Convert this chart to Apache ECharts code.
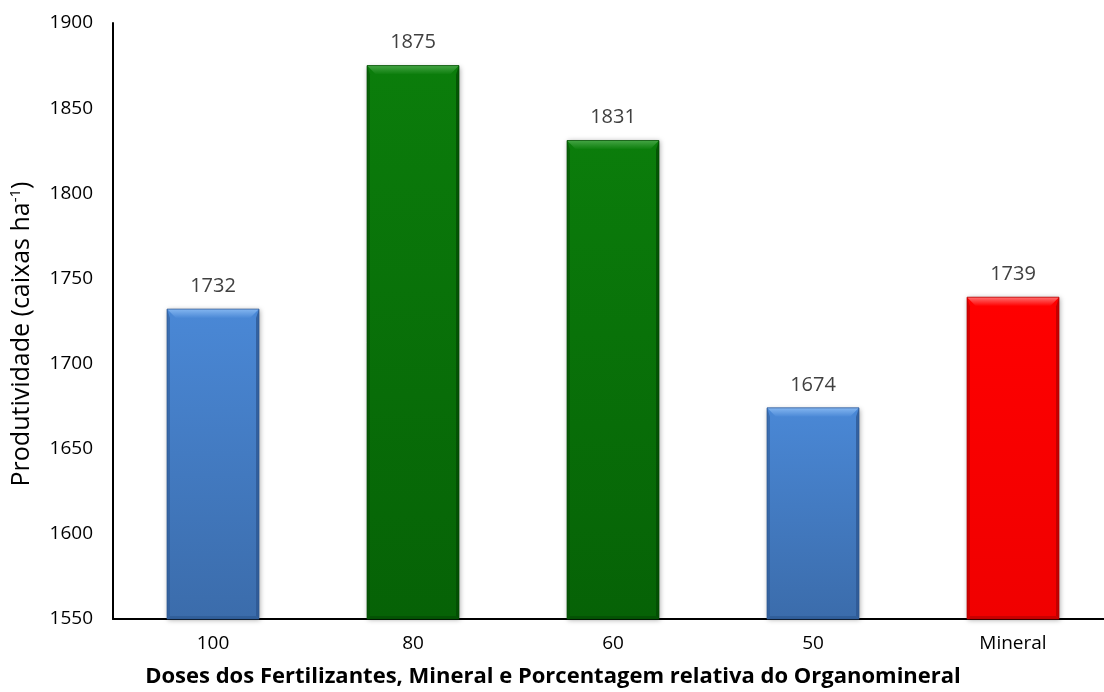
<!DOCTYPE html>
<html>
<head>
<meta charset="utf-8">
<script src="https://cdn.jsdelivr.net/npm/echarts@6/dist/echarts.min.js"></script>
<style>
  html, body { margin: 0; padding: 0; background: #ffffff; }
  #chart { width: 1104px; height: 692px; }
</style>
</head>
<body>
<div id="chart"></div>
<script>
// Productivity per fertilizer dose
const categories = ['100', '80', '60', '50', 'Mineral'];
const productivity = [1732, 1875, 1831, 1674, 1739];
const barGroup = ['blue', 'green', 'green', 'blue', 'red'];
const yTicks = [1550, 1600, 1650, 1700, 1750, 1800, 1850, 1900];

// bevel palettes: light (top bevel), main top, main bottom, edge
const palettes = {
  blue:  { light: '#84b6f0', top: '#4a88d6', bottom: '#3b6cab', edge: '#2c5690' },
  green: { light: '#44a444', top: '#0b7d0b', bottom: '#066206', edge: '#034a03' },
  red:   { light: '#ff7070', top: '#ff0000', bottom: '#f00000', edge: '#b00000' }
};

const chart = echarts.init(document.getElementById('chart'));
const font = '"Open Sans", Lato, sans-serif';

function renderBar(params, api) {
  const idx = api.value(0);
  const val = api.value(1);
  const topPt = api.coord([idx, val]);
  const basePt = api.coord([idx, yTicks[0]]);
  const w = api.size([1, 0])[0] * 0.46;
  const x = topPt[0] - w / 2;
  const y = topPt[1];
  const h = basePt[1] - topPt[1];
  const p = palettes[barGroup[params.dataIndex]];
  const b = 9;
  const s = 3;
  return {
    type: 'group',
    children: [
      {
        type: 'rect',
        shape: { x: x, y: y, width: w, height: h },
        style: {
          fill: new echarts.graphic.LinearGradient(0, 0, 0, 1, [
            { offset: 0, color: p.top },
            { offset: 1, color: p.bottom }
          ]),
          shadowBlur: 5,
          shadowColor: 'rgba(0,0,0,0.35)',
          shadowOffsetX: 1,
          shadowOffsetY: 1
        }
      },
      {
        type: 'polygon',
        shape: { points: [[x, y], [x + w, y], [x + w - b, y + b], [x + b, y + b]] },
        style: {
          fill: new echarts.graphic.LinearGradient(0, 0, 0, 1, [
            { offset: 0, color: p.light },
            { offset: 1, color: p.top }
          ])
        }
      },
      {
        type: 'polygon',
        shape: { points: [[x, y], [x + s, y + b], [x + s, y + h - s], [x, y + h]] },
        style: { fill: p.edge, opacity: 0.5 }
      },
      {
        type: 'polygon',
        shape: { points: [[x + w, y], [x + w - s, y + b], [x + w - s, y + h - s], [x + w, y + h]] },
        style: { fill: p.edge, opacity: 0.75 }
      },
      {
        type: 'polygon',
        shape: { points: [[x, y + h], [x + s, y + h - s], [x + w - s, y + h - s], [x + w, y + h]] },
        style: { fill: p.edge, opacity: 0.6 }
      },
      {
        type: 'rect',
        shape: { x: x, y: y, width: w, height: h },
        style: { fill: 'none', stroke: p.edge, lineWidth: 1, opacity: 0.7 }
      },
      {
        type: 'text',
        style: {
          text: String(val),
          x: topPt[0],
          y: y - 13,
          align: 'center',
          verticalAlign: 'bottom',
          fill: '#404040',
          font: '20px ' + font
        }
      }
    ]
  };
}

chart.setOption({
  animation: false,
  grid: { left: 113, right: -9, top: 23, bottom: 73, containLabel: false, outerBoundsMode: 'none' },
  xAxis: {
    type: 'category',
    data: categories,
    axisLine: { show: true, lineStyle: { color: '#000', width: 2 } },
    axisTick: { show: false },
    axisLabel: { color: '#000', fontSize: 19, fontFamily: font, margin: 15 },
    name: 'Doses dos Fertilizantes, Mineral e Porcentagem relativa do Organomineral',
    nameLocation: 'middle',
    nameGap: 47,
    nameTextStyle: { color: '#000', fontSize: 22, fontWeight: 'bold', fontFamily: font, padding: [0, 120, 0, 0] }
  },
  yAxis: {
    type: 'value',
    min: yTicks[0],
    max: yTicks[yTicks.length - 1],
    interval: 50,
    axisLine: { show: true, lineStyle: { color: '#000', width: 2 } },
    axisTick: { show: false },
    splitLine: { show: false },
    axisLabel: { color: '#000', fontSize: 19, fontFamily: font, margin: 20, formatter: v => String(v) },
    name: '{t|Produtividade (caixas ha}{s|-1}{t|)}',
    nameLocation: 'middle',
    nameRotate: 90,
    nameGap: 78,
    nameTextStyle: {
      padding: [0, 26, 0, 0],
      rich: {
        t: { fontSize: 25, color: '#000', fontFamily: font },
        s: { fontSize: 15, color: '#000', fontFamily: font, padding: [0, 0, 12, 0] }
      }
    }
  },
  series: [{
    type: 'custom',
    renderItem: renderBar,
    encode: { x: 0, y: 1 },
    data: productivity.map((v, i) => [i, v])
  }]
});
</script>
</body>
</html>
